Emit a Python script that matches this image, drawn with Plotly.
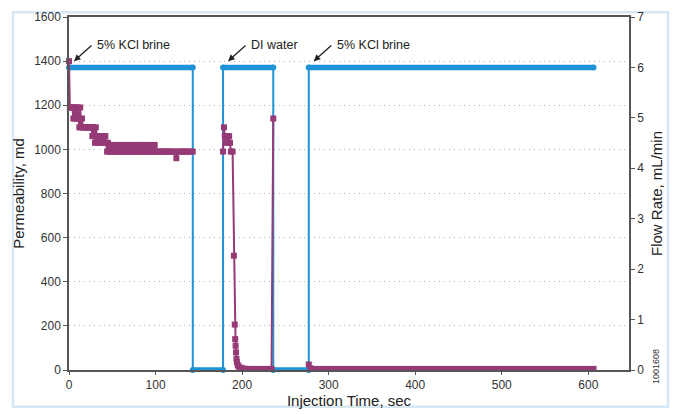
import plotly.graph_objects as go

# Injection schedule: flow rate (mL/min) at the step corners
flow_time = [0, 143, 143, 178, 178, 236, 236, 277, 277, 606]
flow_rate = [6, 6, 0, 0, 6, 6, 0, 0, 6, 6]

# Stage labels and the time each stage starts
stage_labels = ["5% KCl brine", "DI water", "5% KCl brine"]
stage_start = [0, 178, 277]

# Permeability (md) during the first brine stage
perm_t1 = [0, 1, 2, 3, 4, 5, 6, 7, 8, 9, 10, 11, 12, 13, 14, 15, 16, 17, 18, 19, 20,
           21, 22, 23, 24, 25, 26, 27, 28, 29, 30, 31, 32, 33, 34, 35, 36, 37, 38, 39,
           40, 41, 42, 43, 44, 45, 46, 47, 48, 49, 50, 51, 52, 53, 54, 55, 56, 57, 58,
           59, 60, 61, 62, 63, 64, 65, 66, 67, 68, 69, 70, 71, 72, 73, 74, 75, 76, 77,
           78, 79, 80, 81, 82, 83, 84, 85, 86, 87, 88, 89, 90, 91, 92, 93, 94, 95, 96,
           97, 98, 99, 100, 102, 104, 106, 108, 110, 112, 114, 116, 118, 120, 122,
           124, 126, 128, 130, 132, 134, 136, 138, 140, 143]
perm_k1 = [1400, 1190, 1190, 1190, 1190, 1140, 1190, 1140, 1190, 1140, 1190, 1140,
           1100, 1190, 1100, 1140, 1100, 1100, 1100, 1100, 1100, 1100, 1100, 1100,
           1100, 1100, 1100, 1060, 1100, 1060, 1030, 1100, 1060, 1030, 1060, 1030,
           1060, 1030, 1060, 1030, 1060, 1030, 1060, 1030, 990, 1030, 990, 1020,
           990, 1020, 990, 1020, 990, 1020, 990, 1020, 990, 1020, 990, 1020, 990,
           1020, 990, 1020, 990, 1020, 990, 1020, 990, 1020, 990, 1020, 990, 1020,
           990, 1020, 990, 1020, 990, 1020, 990, 1020, 990, 1020, 990, 1020, 990,
           1020, 990, 1020, 990, 1020, 990, 1020, 990, 1020, 990, 1020, 990, 1020,
           990, 990, 990, 990, 990, 990, 990, 990, 990, 990, 990, 990, 960, 990,
           990, 990, 990, 990, 990, 990, 990, 990]

# Permeability during the DI water stage
perm_t2 = [178, 179, 180, 181, 182, 183, 184, 185, 186, 187, 189, 190.5, 191.5, 192,
           192.5, 193, 193.5, 194, 195, 196, 198, 200, 204, 210, 216, 222, 228, 234,
           236]
perm_k2 = [990, 1100, 1060, 1030, 1060, 1060, 1030, 1060, 1030, 990, 990, 518, 206,
           140, 110, 80, 50, 35, 22, 15, 11, 8, 6, 5, 5, 5, 5, 5, 1140]

# Permeability during the second brine stage
perm_t3 = [277, 279, 282, 288, 294, 300, 306, 312, 318, 324, 330, 336, 342, 348, 354,
           360, 366, 372, 378, 384, 390, 396, 402, 408, 414, 420, 426, 432, 438, 444,
           450, 456, 462, 468, 474, 480, 486, 492, 498, 504, 510, 516, 522, 528, 534,
           540, 546, 552, 558, 564, 570, 576, 582, 588, 594, 600, 606]
perm_k3 = [25, 8, 5, 5, 5, 5, 5, 5, 5, 5, 5, 5, 5, 5, 5, 5, 5, 5, 5, 5, 5, 5, 5, 5, 5,
           5, 5, 5, 5, 5, 5, 5, 5, 5, 5, 5, 5, 5, 5, 5, 5, 5, 5, 5, 5, 5, 5, 5, 5, 5, 5,
           5, 5, 5, 5, 5, 5]

BLUE = "#1f93d8"
PURPLE = "#963a76"
AXIS = "#555555"
FONT = "Liberation Sans, Arial, sans-serif"

# Gaps (None) where no flow means no permeability reading
perm_t = perm_t1 + [None] + perm_t2 + [None] + perm_t3
perm_k = perm_k1 + [None] + perm_k2 + [None] + perm_k3

fig = go.Figure()

# Thin step outline of the schedule
fig.add_trace(go.Scatter(x=flow_time, y=flow_rate, mode="lines",
                         line=dict(color=BLUE, width=2), yaxis="y",
                         showlegend=False, hoverinfo="skip"))

# Flat portions of the schedule drawn heavy, with rounded ends
for i in range(len(flow_time) - 1):
    if flow_rate[i] == flow_rate[i + 1]:
        seg_t = [flow_time[i], flow_time[i + 1]]
        seg_r = [flow_rate[i], flow_rate[i + 1]]
        fig.add_trace(go.Scatter(x=seg_t, y=seg_r, mode="lines+markers",
                                 line=dict(color=BLUE, width=5.5, dash="solid"),
                                 marker=dict(color=BLUE, size=6),
                                 yaxis="y", cliponaxis=False,
                                 showlegend=False, hoverinfo="skip"))

fig.add_trace(go.Scatter(x=perm_t, y=perm_k, mode="lines+markers",
                         line=dict(color=PURPLE, width=2),
                         marker=dict(color=PURPLE, size=6, symbol="square"),
                         yaxis="y2", cliponaxis=False, connectgaps=False,
                         showlegend=False))

# Stage labels with leader arrows pointing at the start of each stage
for label, t0 in zip(stage_labels, stage_start):
    fig.add_annotation(x=t0, y=1400, xref="x", yref="y2", text="",
                       showarrow=True, arrowhead=2, arrowsize=1, arrowwidth=1.3,
                       arrowcolor="#222222", ax=19, ay=-17, xshift=5)
    fig.add_annotation(x=t0, y=1400, xref="x", yref="y2", text=label,
                       showarrow=False, xanchor="left", yanchor="middle",
                       xshift=26, yshift=16,
                       font=dict(family=FONT, size=12.5, color="#222222"))

# Figure id printed sideways in the lower right corner
L, R, T, B = 69, 44, 10, 40
W, H = 673, 415
pw, ph = W - L - R, H - T - B


def px_x(p):
    return (p - L) / pw


def px_y(p):
    return (H - B - p) / ph


fig.add_annotation(x=px_x(663), y=px_y(392), xref="paper", yref="paper",
                   text="1001608", showarrow=False, textangle=-90,
                   font=dict(family=FONT, size=9, color="#333333"))

# Light frame around the whole figure
fig.add_shape(type="rect", xref="paper", yref="paper",
              x0=px_x(13), x1=px_x(668), y0=px_y(413), y1=px_y(5),
              line=dict(color="#d8e7f6", width=2.5), layer="below")

fig.update_layout(
    width=W, height=H,
    margin=dict(l=L, r=R, t=T, b=B),
    paper_bgcolor="white", plot_bgcolor="white",
    font=dict(family=FONT, size=12, color="#333333"),
    xaxis=dict(range=[0, 647], tickvals=[0, 100, 200, 300, 400, 500, 600],
               showline=True, linecolor=AXIS, linewidth=1.5, mirror=True,
               ticks="outside", ticklen=3, tickcolor=AXIS, showgrid=False,
               zeroline=False,
               title=dict(text="Injection Time, sec", standoff=2,
                          font=dict(size=15, color="#222222"))),
    yaxis=dict(range=[0, 7], tickvals=[0, 1, 2, 3, 4, 5, 6, 7], side="right",
               showline=True, linecolor=AXIS, linewidth=1.5,
               ticks="outside", ticklen=4, tickcolor=AXIS, showgrid=False,
               zeroline=False,
               title=dict(text="Flow Rate, mL/min", standoff=8,
                          font=dict(size=15, color="#222222"))),
    yaxis2=dict(range=[0, 1600], dtick=200, overlaying="y", side="left",
                showline=True, linecolor=AXIS, linewidth=1.5,
                ticks="outside", ticklen=4, tickcolor=AXIS,
                showgrid=True, gridcolor="#b4b4b4", griddash="1px,4px", gridwidth=1,
                zeroline=False,
                title=dict(text="Permeability, md", standoff=6,
                           font=dict(size=15, color="#222222"))),
)

fig.write_html("out.html")
